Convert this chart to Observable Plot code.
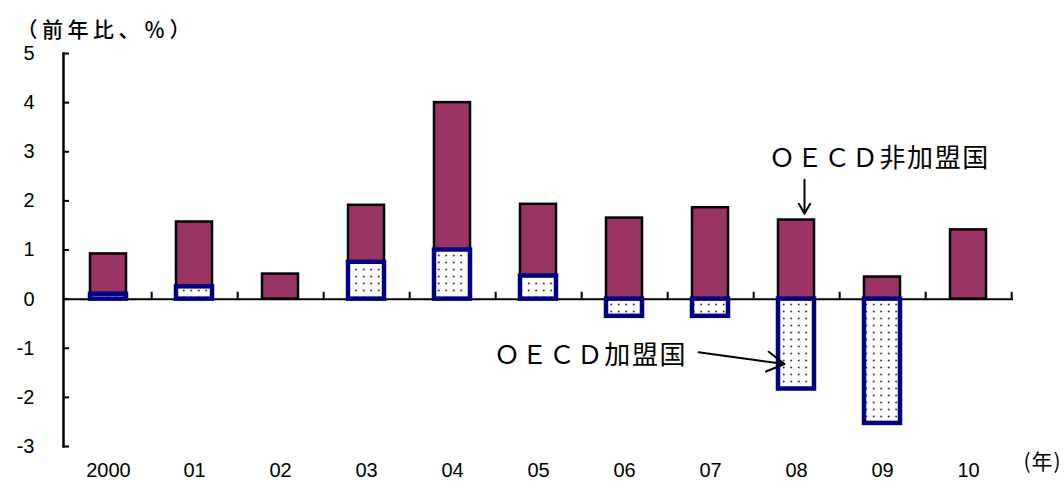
<!DOCTYPE html>
<html><head><meta charset="utf-8">
<script src="https://cdn.jsdelivr.net/npm/d3@7"></script>
<script src="https://cdn.jsdelivr.net/npm/@observablehq/plot@0.6"></script>
<style>body{margin:0;background:#fff;} #chart{width:1064px;height:484px;}</style>
</head><body><div id="chart"></div>
<script>
// ---- data ----
const years = ["2000", "01", "02", "03", "04", "05", "06", "07", "08", "09", "10"];
const oecd = [0.1, 0.25, 0, 0.75, 1.0, 0.47, -0.35, -0.35, -1.83, -2.53, 0];
const nonOecd = [0.82, 1.32, 0.51, 1.16, 3.0, 1.46, 1.65, 1.86, 1.61, 0.45, 1.41];
const yTicks = [-3, -2, -1, 0, 1, 2, 3, 4, 5];
const unitLabel = "（前年比、％）";
const xUnitLabel = "(年)";
const labelNon = "ＯＥＣＤ非加盟国";
const labelMem = "ＯＥＣＤ加盟国";
// annotation anchors (category, value)
const annoNon = {year: "08", y: 2.86, from: 2.43, to: 1.74};
const annoMem = {year: "06", y: -1.15, fromYear: "07", from: -1.08, toYear: "08", to: -1.32};

// ---- layout ----
const W = 1064, H = 484, mL = 63, mR = 51, mT = 53, mB = 38;
const padIn = 0.583;
const step = (W - mL - mR) / years.length;

const memberBars = years.map((year, i) => ({year, y1: 0, y2: oecd[i]})).filter(d => d.y2 !== 0);
const nonBars = years.map((year, i) => {
  const base = Math.max(0, oecd[i]);
  return {year, y1: base, y2: base + nonOecd[i]};
});

const cjk = "'Noto Sans CJK JP', sans-serif";

const chart = Plot.plot({
  width: W, height: H,
  marginLeft: mL, marginRight: mR, marginTop: mT, marginBottom: mB,
  style: {fontFamily: "'Liberation Sans', Arial, sans-serif", fontSize: "20px", color: "#000", background: "#fff"},
  x: {type: "band", domain: years, paddingInner: padIn, paddingOuter: padIn / 2, label: null},
  y: {domain: [-3, 5], label: null},
  marks: [
    Plot.axisY({ticks: yTicks, tickSize: 0, tickPadding: 29, tickFormat: d => d < 0 ? "-" + Math.abs(d) : String(d), fontSize: 20}),
    Plot.axisX({tickSize: 0, tickPadding: 16, fontSize: 20}),
    Plot.ruleY(yTicks, {insetRight: (W - mL - mR) - 6, strokeWidth: 2, stroke: "#000"}),
    Plot.frame({anchor: "left", strokeWidth: 2.5, stroke: "#000"}),
    Plot.barY(nonBars, {x: "year", y1: "y1", y2: "y2", fill: "#993366", stroke: "#000", strokeWidth: 2.5}),
    Plot.ruleY([0], {stroke: "#000", strokeWidth: 2}),
    Plot.ruleX(years, {x: d => d, y1: 0, y2: 0.14, dx: step / 2, stroke: "#000", strokeWidth: 2}),
    Plot.barY(memberBars, {x: "year", y1: "y1", y2: "y2", fill: "url(#dots)", stroke: "#000080", strokeWidth: 4.5}),
    Plot.text([labelNon], {x: () => annoNon.year, y: () => annoNon.y, text: d => d, dx: 83, fontFamily: cjk, fontSize: 26, fill: "#000", textAnchor: "middle"}),
    Plot.text([labelMem], {x: () => annoMem.year, y: () => annoMem.y, text: d => d, dx: -34, fontFamily: cjk, fontSize: 26, fill: "#000", textAnchor: "middle"}),
    Plot.arrow([annoNon], {x1: "year", x2: "year", y1: "from", y2: "to", dx: 8, stroke: "#000", strokeWidth: 2, headLength: 15}),
    Plot.arrow([annoMem], {x1: "fromYear", x2: "toYear", y1: "from", y2: "to", dx: -12, stroke: "#000", strokeWidth: 2, headLength: 15}),
    Plot.text([unitLabel], {frameAnchor: "top-left", text: d => d, dx: -47, dy: -31, textAnchor: "start", fontFamily: cjk, fontSize: 21, fontWeight: 500, fill: "#000"}),
    Plot.text([xUnitLabel], {frameAnchor: "bottom-right", text: d => d, dx: 10, dy: 22, textAnchor: "start", fontFamily: cjk, fontSize: 21, fill: "#000"})
  ]
});

// letter spacing for CJK labels
const spacing = new Map([[unitLabel, "4.5px"], [labelNon, "1.6px"], [labelMem, "1.6px"], [xUnitLabel, "1px"]]);
chart.querySelectorAll("text").forEach(t => {
  if (spacing.has(t.textContent)) t.setAttribute("letter-spacing", spacing.get(t.textContent));
});

// dotted pattern for OECD member bars
const ns = "http://www.w3.org/2000/svg";
const defs = document.createElementNS(ns, "defs");
defs.innerHTML = '<pattern id="dots" width="7.5" height="7" patternUnits="userSpaceOnUse">' +
  '<rect width="7.5" height="7" fill="#fff"/><circle cx="3.7" cy="3.5" r="0.95" fill="#222"/></pattern>';
chart.insertBefore(defs, chart.firstChild);
document.getElementById("chart").appendChild(chart);
</script>
</body></html>
